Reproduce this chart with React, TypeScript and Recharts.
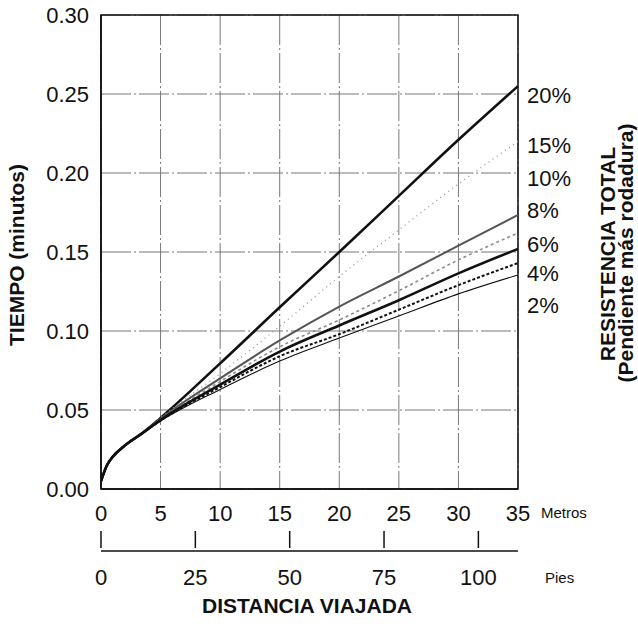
import React from "react";
import {
  LineChart,
  Line,
  XAxis,
  YAxis,
  CartesianGrid,
  ReferenceArea,
  ReferenceDot,
  Customized,
} from "recharts";

const FONT = '"Liberation Sans", Arial, Helvetica, sans-serif';

// distance travelled (metres)
const distM = [0, 0.5, 1, 2, 3.5, 5, 10, 15, 20, 25, 30, 35];

// time (minutes) for each total resistance
const t20 = [0.005, 0.015, 0.0205, 0.0275, 0.0355, 0.045, 0.0795, 0.115, 0.15, 0.1855, 0.221, 0.255];
const t15 = [0.005, 0.015, 0.0205, 0.0275, 0.0355, 0.045, 0.073, 0.103, 0.1345, 0.164, 0.193, 0.22];
const t10 = [0.005, 0.015, 0.0205, 0.0275, 0.0355, 0.0445, 0.07, 0.094, 0.1155, 0.1345, 0.154, 0.1735];
const t8 = [0.005, 0.015, 0.0205, 0.0275, 0.0355, 0.044, 0.068, 0.09, 0.107, 0.1255, 0.145, 0.162];
const t6 = [0.005, 0.015, 0.0205, 0.0275, 0.0355, 0.0437, 0.066, 0.087, 0.1035, 0.1195, 0.1365, 0.152];
const t4 = [0.005, 0.015, 0.0205, 0.0275, 0.0355, 0.0433, 0.0645, 0.084, 0.098, 0.1135, 0.129, 0.143];
const t2 = [0.005, 0.015, 0.0205, 0.0275, 0.0355, 0.043, 0.063, 0.081, 0.0955, 0.1095, 0.1235, 0.1355];

const seriesNames = ["20%", "15%", "10%", "8%", "6%", "4%", "2%"];
const seriesValues = [t20, t15, t10, t8, t6, t4, t2];

const metreTicks = [0, 5, 10, 15, 20, 25, 30, 35];
const feetTicks = [0, 25, 50, 75, 100];
const timeTicks = [0, 0.05, 0.1, 0.15, 0.2, 0.25, 0.3];

// the printed feet scale runs 0..110.5 across the same width as 0..35 m
const FT_SPAN = 110.5;
const ftToAxis = (f: number) => (f * 35) / FT_SPAN;

// per-series look + where its % label sits on the right edge (in minutes)
const lineLook = [
  { stroke: "#111", width: 2.6, dash: undefined, labelY: 0.2494 },
  { stroke: "#9a9a9a", width: 1.4, dash: "1 4", labelY: 0.2174 },
  { stroke: "#555", width: 2, dash: undefined, labelY: 0.1968 },
  { stroke: "#8a8a8a", width: 1.6, dash: "3 3", labelY: 0.1766 },
  { stroke: "#111", width: 2.6, dash: undefined, labelY: 0.1551 },
  { stroke: "#111", width: 2, dash: "3 2", labelY: 0.1364 },
  { stroke: "#111", width: 1.1, dash: undefined, labelY: 0.1165 },
];

const data = distM.map((d, i) => {
  const row: Record<string, number> = { d };
  seriesNames.forEach((n, k) => {
    row[n] = seriesValues[k][i];
  });
  return row;
});

const FeetTick = (props: any) => {
  const { x, y, payload } = props;
  const ft = Math.round((payload.value * FT_SPAN) / 35);
  return (
    <g>
      <line x1={x} x2={x} y1={y - 20} y2={y - 3} stroke="#111" strokeWidth={1.5} />
      <text x={x} y={y + 26} dy="0.35em" textAnchor="middle" fontSize={22} fill="#111" fontFamily={FONT}>
        {ft}
      </text>
    </g>
  );
};

const Titles = () => (
  <g fontFamily={FONT} fill="#111">
    <text x={24} y={255} transform="rotate(-90 24 255)" textAnchor="middle" fontSize={21} fontWeight="bold">
      TIEMPO (minutos)
    </text>
    <text x={615} y={254} transform="rotate(-90 615 254)" textAnchor="middle" fontSize={21} fontWeight="bold">
      RESISTENCIA TOTAL
    </text>
    <text x={633} y={253} transform="rotate(-90 633 253)" textAnchor="middle" fontSize={21} fontWeight="bold">
      (Pendiente más rodadura)
    </text>
    <text x={541} y={513} dy="0.35em" fontSize={15}>
      Metros
    </text>
    <text x={545} y={578} dy="0.35em" fontSize={15}>
      Pies
    </text>
    <text x={307} y={606} dy="0.35em" textAnchor="middle" fontSize={21} fontWeight="bold">
      DISTANCIA VIAJADA
    </text>
  </g>
);

export default function App() {
  return (
    <div style={{ position: "absolute", left: 0, top: 0, width: 638, height: 629, background: "#fff" }}>
      <LineChart width={638} height={629} data={data} margin={{ top: 15, right: 120, left: 0, bottom: 18 }}>
        <CartesianGrid xAxisId="a" stroke="#777" strokeDasharray="30 3 2 3" horizontalValues={timeTicks} />
        <XAxis
          xAxisId="a"
          dataKey="d"
          type="number"
          domain={[0, 35]}
          ticks={metreTicks}
          interval={0}
          allowDataOverflow
          height={62}
          tickSize={0}
          tickMargin={16}
          axisLine={{ stroke: "#111", strokeWidth: 1.5 }}
          tick={{ fontSize: 22, fill: "#111", fontFamily: FONT }}
        />
        <XAxis
          xAxisId="b"
          dataKey="d"
          type="number"
          domain={[0, 35]}
          ticks={feetTicks.map(ftToAxis)}
          interval={0}
          allowDataOverflow
          height={60}
          tickSize={0}
          tickMargin={0}
          axisLine={{ stroke: "#111", strokeWidth: 1.5 }}
          tick={<FeetTick />}
        />
        <YAxis
          type="number"
          domain={[0, 0.3]}
          ticks={timeTicks}
          interval={0}
          allowDataOverflow
          width={101}
          tickSize={0}
          tickMargin={12}
          tickFormatter={(v: number) => v.toFixed(2)}
          axisLine={{ stroke: "#111", strokeWidth: 1.5 }}
          tick={{ fontSize: 22, fill: "#111", fontFamily: FONT }}
        />
        {seriesNames.map((n, k) => (
          <Line
            key={n}
            xAxisId="a"
            type="monotone"
            dataKey={n}
            stroke={lineLook[k].stroke}
            strokeWidth={lineLook[k].width}
            strokeDasharray={lineLook[k].dash}
            dot={false}
            isAnimationActive={false}
          />
        ))}
        <ReferenceArea xAxisId="a" x1={0} x2={35} y1={0} y2={0.3} fill="none" stroke="#111" strokeWidth={1.5} />
        {seriesNames.map((n, k) => (
          <ReferenceDot
            key={"lab" + n}
            xAxisId="a"
            x={35}
            y={lineLook[k].labelY}
            r={0}
            fill="none"
            stroke="none"
            ifOverflow="visible"
            label={{ value: n, position: "right", offset: 9, fontSize: 22, fill: "#111", fontFamily: FONT }}
          />
        ))}
        <Customized component={Titles} />
      </LineChart>
    </div>
  );
}
